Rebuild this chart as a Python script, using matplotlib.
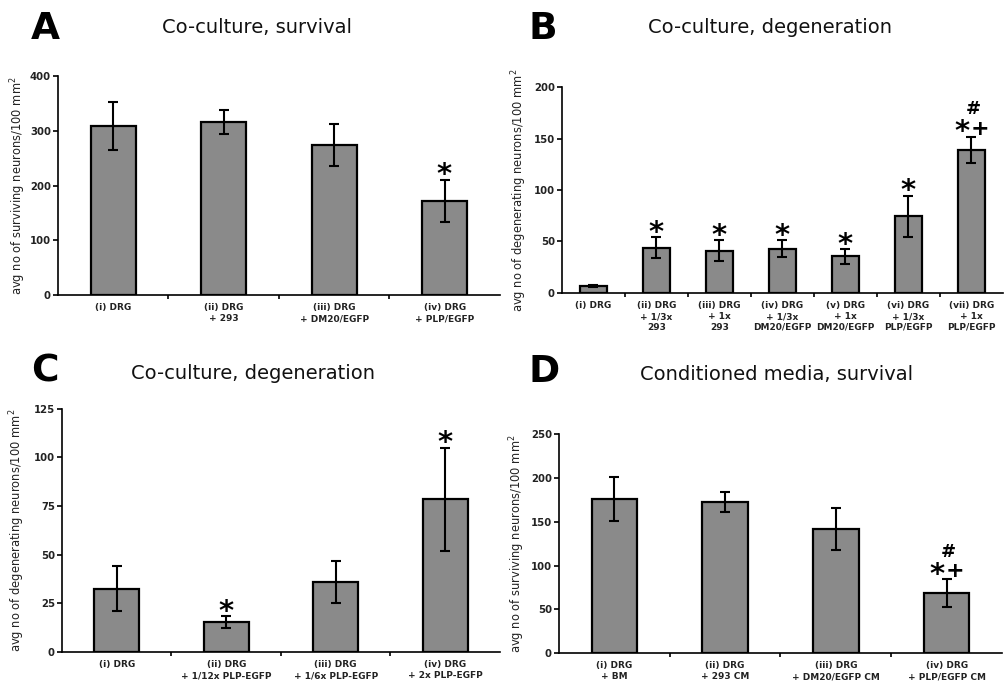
import matplotlib
matplotlib.use("Agg")
import matplotlib.pyplot as plt
import numpy as np

# panel A - co-culture survival
a_labels = ["(i) DRG", "(ii) DRG\n+ 293", "(iii) DRG\n+ DM20/EGFP", "(iv) DRG\n+ PLP/EGFP"]
a_vals = [309, 316, 274, 172]
a_errs = [44, 22, 39, 39]
a_marks = ["", "", "", "*"]

# panel B - co-culture degeneration
b_labels = ["(i) DRG", "(ii) DRG\n+ 1/3x\n293", "(iii) DRG\n+ 1x\n293", "(iv) DRG\n+ 1/3x\nDM20/EGFP",
            "(v) DRG\n+ 1x\nDM20/EGFP", "(vi) DRG\n+ 1/3x\nPLP/EGFP", "(vii) DRG\n+ 1x\nPLP/EGFP"]
b_vals = [7, 44, 41, 43, 35.5, 74.5, 139]
b_errs = [1, 10, 10, 8, 7, 20, 13]
b_marks = ["", "*", "*", "*", "*", "*", "*+#"]

# panel C - co-culture degeneration, dose
c_labels = ["(i) DRG", "(ii) DRG\n+ 1/12x PLP-EGFP", "(iii) DRG\n+ 1/6x PLP-EGFP", "(iv) DRG\n+ 2x PLP-EGFP"]
c_vals = [32.5, 15.5, 36, 78.5]
c_errs = [11.5, 3, 11, 26.5]
c_marks = ["", "*", "", "*"]

# panel D - conditioned media survival
d_labels = ["(i) DRG\n+ BM", "(ii) DRG\n+ 293 CM", "(iii) DRG\n+ DM20/EGFP CM", "(iv) DRG\n+ PLP/EGFP CM"]
d_vals = [176, 172.5, 142, 68.5]
d_errs = [25, 11, 24, 16]
d_marks = ["", "", "", "*+#"]

BAR = "#8a8a8a"
TXT = "#222222"


def mark(ax, s, x, y, dx, dy, size):
    # mathtext keeps the text box tight around the glyph
    ax.annotate(s, (x, y), xytext=(dx, dy), textcoords="offset points",
                ha="center", va="center", fontsize=size)


def panel(rect, labels, vals, errs, marks, ymax, step, ylabel, width, labx):
    ax = fig.add_axes(rect)
    x = np.arange(len(vals))
    ax.bar(x, vals, width=width, color=BAR, edgecolor="black", linewidth=1.6, zorder=2)
    ax.errorbar(x, vals, yerr=errs, fmt="none", ecolor="black", elinewidth=1.5,
                capsize=3.5, capthick=1.5, zorder=3)
    for xi, v, e, m in zip(x, vals, errs, marks):
        top = v + e
        if m == "*":
            mark(ax, r"$\mathbf{*}$", xi, top, 0, 4.5, 21)
        elif m == "*+#":
            mark(ax, r"$\mathbf{*}$", xi, top, -6.5, 4.5, 21)
            mark(ax, r"$\mathbf{{+}}$", xi, top, 5.5, 5.5, 16)
            mark(ax, r"$\mathbf{\#}$", xi, top, 1, 19.5, 13)
    ax.set_xlim(-0.5, len(vals) - 0.5)
    ax.set_ylim(0, ymax)
    ax.set_yticks(np.arange(0, ymax + 1, step))
    ax.set_xticks(x)
    ax.set_xticklabels(labels, fontsize=6.5, fontweight="bold", color=TXT, linespacing=1.25)
    ax.set_xticks(np.arange(0.5, len(vals) - 1, 1), minor=True)
    ax.tick_params(axis="x", which="major", length=0, pad=6)
    ax.tick_params(axis="x", which="minor", length=3, width=1.2, direction="out")
    ax.tick_params(axis="y", length=3.6, width=1.2, labelsize=7.3, labelcolor=TXT, pad=1.5)
    for t in ax.get_yticklabels():
        t.set_fontweight("bold")
    ax.spines["top"].set_visible(False)
    ax.spines["right"].set_visible(False)
    ax.spines["left"].set_linewidth(1.2)
    ax.spines["bottom"].set_linewidth(1.2)
    ax.set_ylabel(ylabel, fontsize=8.3, color=TXT)
    ax.yaxis.set_label_coords(labx, 0.5)
    return ax


fig = plt.figure(figsize=(10.08, 6.86), dpi=100)

panel([0.0575, 0.570, 0.4385, 0.319], a_labels, a_vals, a_errs, a_marks, 400, 100,
      "avg no of surviving neurons/100 mm$^2$", 0.41, -0.068)
panel([0.5575, 0.573, 0.4375, 0.300], b_labels, b_vals, b_errs, b_marks, 200, 50,
      "avg no of degenerating neurons/100 mm$^2$", 0.43, -0.075)
panel([0.0615, 0.0496, 0.4345, 0.3545], c_labels, c_vals, c_errs, c_marks, 125, 25,
      "avg no of degenerating neurons/100 mm$^2$", 0.41, -0.080)
panel([0.5546, 0.048, 0.4394, 0.319], d_labels, d_vals, d_errs, d_marks, 250, 50,
      "avg no of surviving neurons/100 mm$^2$", 0.41, -0.072)

# panel letters and titles
for lx, ly, letter in [(31, 39, "A"), (529, 39, "B"), (31, 382, "C"), (529, 382, "D")]:
    fig.text(lx / 1008, 1 - ly / 686, letter, fontsize=27, fontweight="bold", va="baseline")

for tx, ty, title in [(257, 33, "Co-culture, survival"), (770, 33, "Co-culture, degeneration"),
                      (253, 379, "Co-culture, degeneration"), (777, 380, "Conditioned media, survival")]:
    fig.text(tx / 1008, 1 - ty / 686, title, fontsize=14, ha="center", va="baseline", color="#111111")

fig.savefig("out.png", dpi=100)
